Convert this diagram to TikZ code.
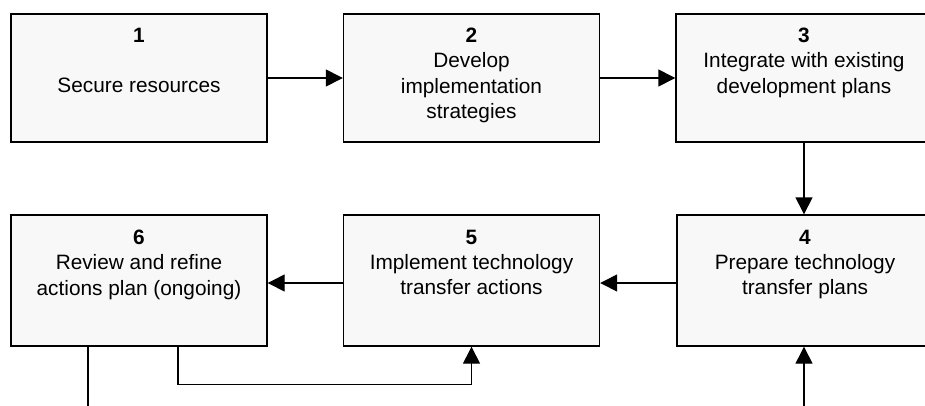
\documentclass[tikz,border=0pt]{standalone}
\usepackage{fontspec}
\setmainfont{Liberation Sans}
\usetikzlibrary{arrows.meta}
\definecolor{boxfill}{HTML}{F8F8F8}
\tikzset{
  stepbox/.style={draw=black, line width=1.4pt, fill=boxfill, minimum width=256pt, inner sep=0pt},
  row1/.style={minimum height=128pt},
  row2/.style={minimum height=131pt},
  txt/.style={anchor=north, align=center, inner sep=0pt, font=\fontsize{20.8}{25.2}\selectfont},
  conn/.style={line width=1.4pt},
  arr/.style={conn, -{Triangle[length=17pt,width=17pt]}}
}
\begin{document}
\begin{tikzpicture}[x=1pt, y=-1pt]
\useasboundingbox (0,0) rectangle (925,405);
% boxes
\node[stepbox,row1] (b1) at (139,78) {};
\node[stepbox,row1] (b2) at (471.5,78) {};
\node[stepbox,row1] (b3) at (804,78) {};
\node[stepbox,row2] (b6) at (139,280.5) {};
\node[stepbox,row2] (b5) at (471.5,280.5) {};
\node[stepbox,row2] (b4) at (805,280.5) {};
% texts
\node[txt] (t1) at ([yshift=-14.6pt]b1.north) {\textbf{1}\\[25.2pt]Secure resources};
\node[txt] (t2) at ([yshift=-14.6pt]b2.north) {\textbf{2}\\Develop\\implementation\\strategies};
\node[txt] (t3) at ([yshift=-14.6pt]b3.north) {\textbf{3}\\Integrate with existing\\development plans};
\node[txt] (t4) at ([yshift=-15.6pt]b4.north) {\textbf{4}\\Prepare technology\\transfer plans};
\node[txt] (t5) at ([yshift=-15.6pt]b5.north) {\textbf{5}\\Implement technology\\transfer actions};
\node[txt] (t6) at ([yshift=-15.6pt]b6.north) {\textbf{6}\\Review and refine\\actions plan (ongoing)};
% connectors
\draw[arr] (b1) -- (b2);
\draw[arr] (b2) -- (b3);
\draw[arr] (b3.south) -- (b3.south |- b4.north);
\draw[arr] ([yshift=-2.5pt]b4.west) -- ([yshift=-2.5pt]b5.east);
\draw[arr] ([yshift=-2.5pt]b5.west) -- ([yshift=-2.5pt]b6.east);
\draw[arr] ([xshift=39pt]b6.south) -- ++(0,38) -| (b5.south);
\coordinate (e6) at (88,412);
\coordinate (e4) at (804,412);
\draw[conn] (e6 |- b6.south) -- (e6);
\draw[arr] (e4) -- (e4 |- b4.south);
\end{tikzpicture}
\end{document}
